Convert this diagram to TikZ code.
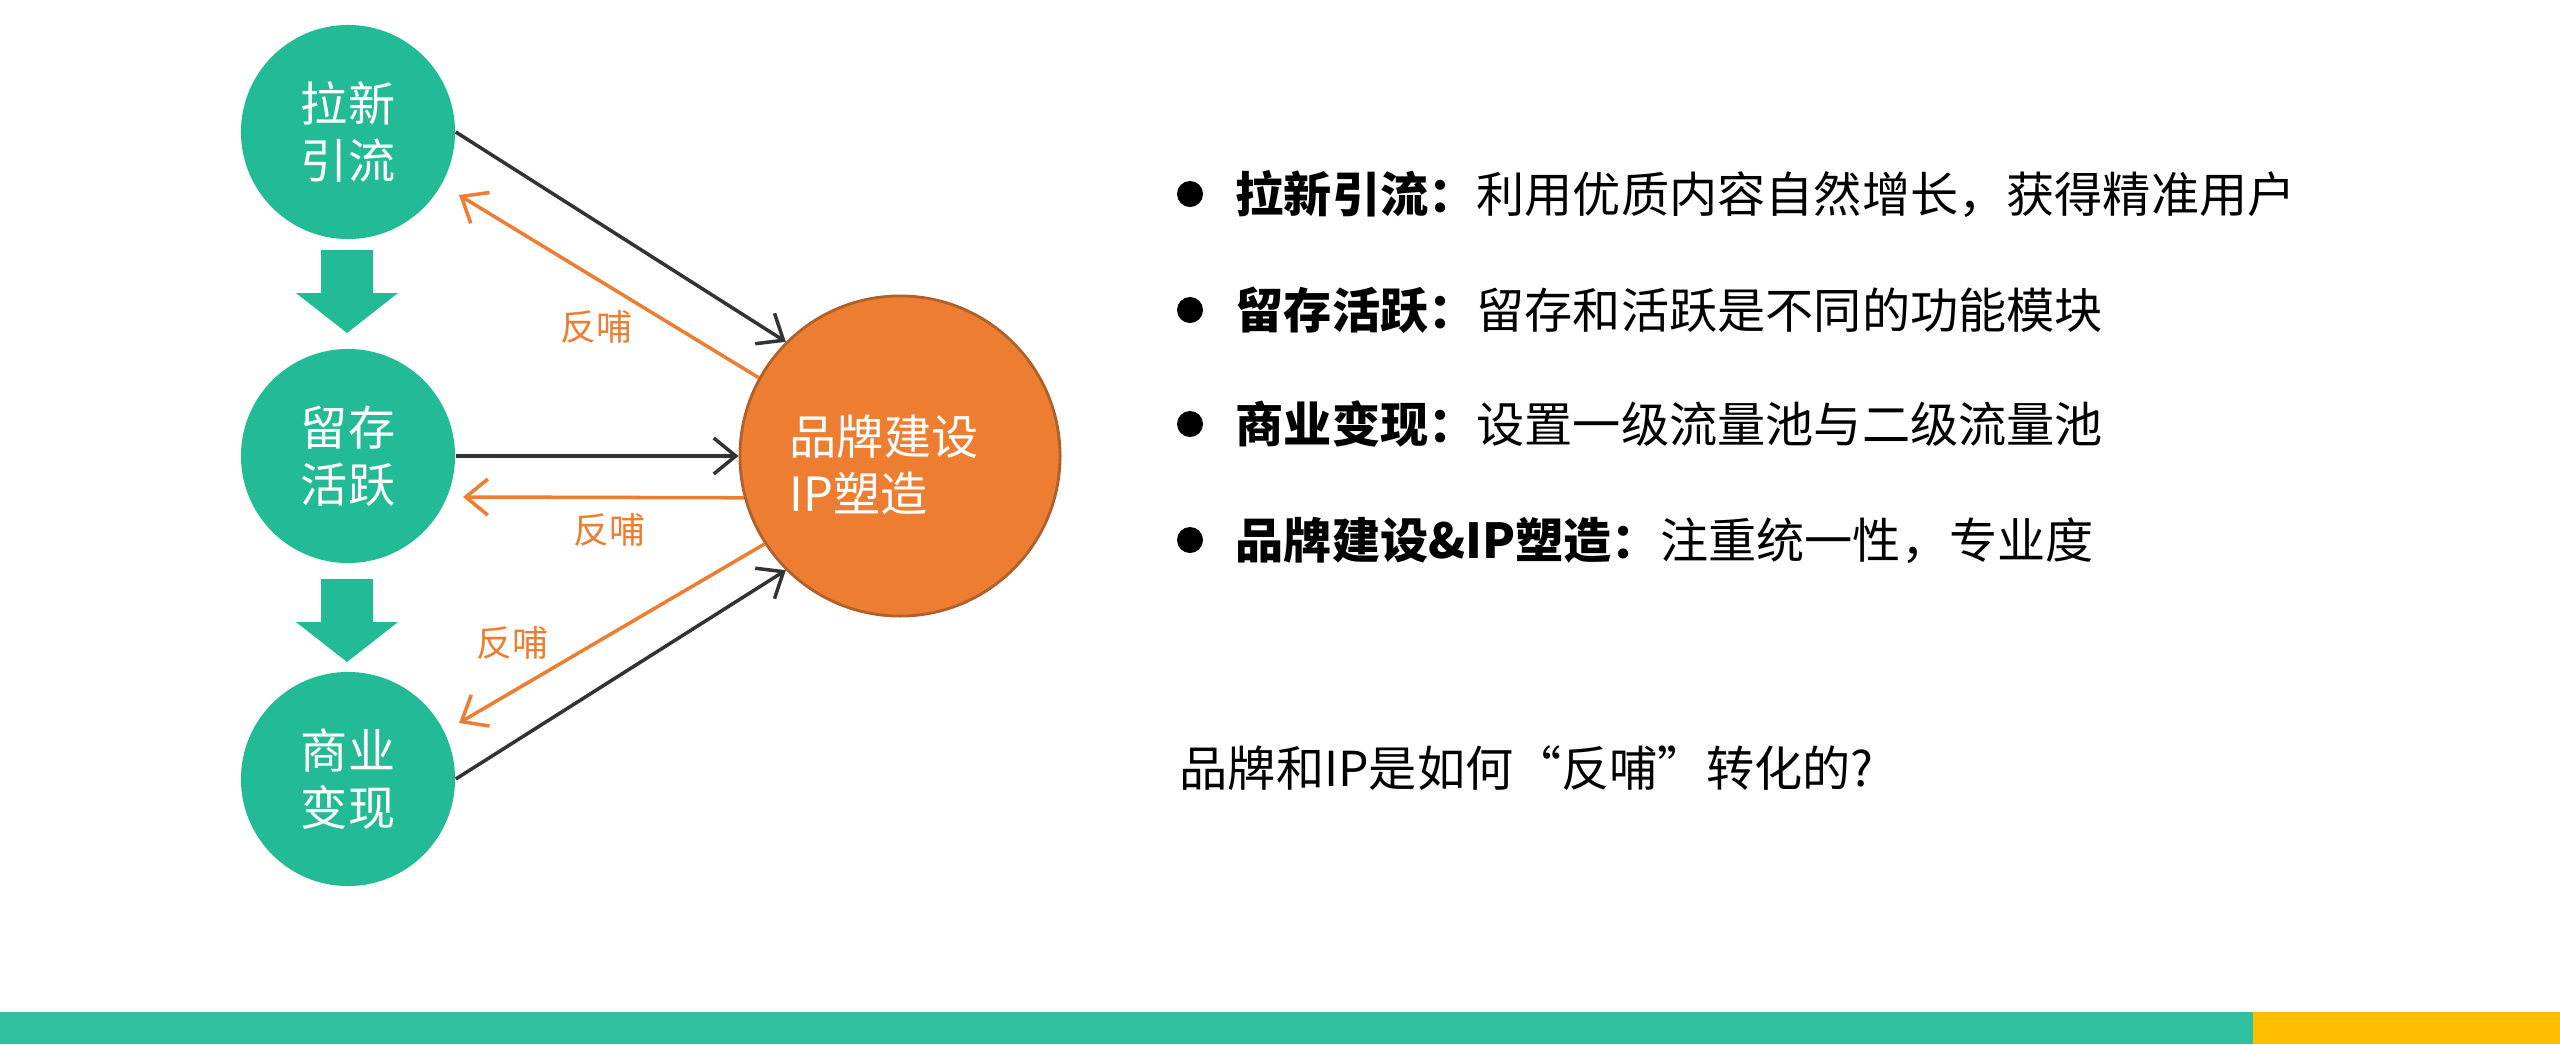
\documentclass[tikz,border=0pt]{standalone}
\usepackage{fontspec}
\setmainfont{Noto Sans CJK SC}
\usetikzlibrary{arrows.meta,calc}

\definecolor{stagegreen}{HTML}{22BB95}
\definecolor{bargreen}{HTML}{2EC09F}
\definecolor{baryellow}{HTML}{FFBE00}
\definecolor{hubfill}{HTML}{ED7D31}
\definecolor{hubedge}{HTML}{B0602A}
\definecolor{flowgray}{HTML}{333333}

\begin{document}
\begin{tikzpicture}[x=0.01cm, y=0.01cm,
    stage/.style={circle, fill=stagegreen, text=white, minimum size=2.14cm, inner sep=0,
      align=center, font=\fontsize{13.4}{16.2}\selectfont},
    hub/.style={circle, fill=hubfill, draw=hubedge, line width=0.8pt, minimum size=3.2cm, inner sep=0},
    flow/.style={draw=flowgray, line width=1pt, -{Straight Barb[length=2.2mm,width=3.6mm]}},
    feedback/.style={flow, draw=hubfill},
    fblabel/.style={text=hubfill, inner sep=0, font=\fontsize{10.2}{12}\selectfont},
    bulletdot/.style={circle, fill=black, minimum size=0.26cm, inner sep=0},
    point/.style={anchor=west, inner sep=0, font=\fontsize{13.7}{16}\selectfont}]

  \useasboundingbox (0,0) rectangle (2560,1044);
  \fill[white] (0,0) rectangle (2560,1044);

  % Stages and hub
  \node[stage] (lx) at (348,912) {拉新\\引流};
  \node[stage] (hy) at (348,588) {留存\\活跃};
  \node[stage] (sy) at (348,265) {商业\\变现};
  \node[hub] (brand) at (900,588) {};
  \node[align=left, text=white, inner sep=0, font=\fontsize{13.4}{16.2}\selectfont]
    (brandtext) at (884,579) {品牌建设\\IP塑造};

  % Block arrows between stages
  \foreach \t in {794,465} {
    \fill[stagegreen] (321,\t) -- ++(52,0) -- ++(0,-43) -- ++(25,0) -- ++(-51,-40)
      -- ++(-51,40) -- ++(25,0) -- cycle;
  }

  % Flows into the hub
  \draw[flow] (lx.east) -- (brand.135);
  \draw[flow] (hy.east) -- (brand.west);
  \draw[flow] (sy.east) -- (brand.225);

  % Feedback
  \coordinate (fbA) at ($(lx)+(111,-63)$);
  \coordinate (fbB) at ($(hy)+(115,-41)$);
  \coordinate (fbC) at ($(sy)+(111,56)$);
  \draw[feedback] (brand.151) -- (fbA);
  \draw[feedback] (brand.195) -- (fbB);
  \draw[feedback] (brand.213) -- (fbC);
  \node[fblabel] (fbtA) at (596,717) {反哺};
  \node[fblabel] (fbtB) at (609,514) {反哺};
  \node[fblabel] (fbtC) at (512,401) {反哺};

  % Points on the right
  \foreach \y/\head/\body [count=\i] in {
      850/拉新引流/利用优质内容自然增长，获得精准用户,
      734/留存活跃/留存和活跃是不同的功能模块,
      620/商业变现/设置一级流量池与二级流量池,
      504/品牌建设\&IP塑造/注重统一性，专业度} {
    \node[bulletdot] (dot\i) at (1190,\y) {};
    \node[point] (pt\i) at (1235,\y) {\textbf{\head：}\body};
  }
  \node[point] (ask) at (1179,276) {品牌和IP是如何“反哺”转化的?};

  % Bottom bar
  \fill[bargreen] (0,0) rectangle (2253,32);
  \fill[baryellow] (2253,0) rectangle (2560,32);
\end{tikzpicture}
\end{document}
